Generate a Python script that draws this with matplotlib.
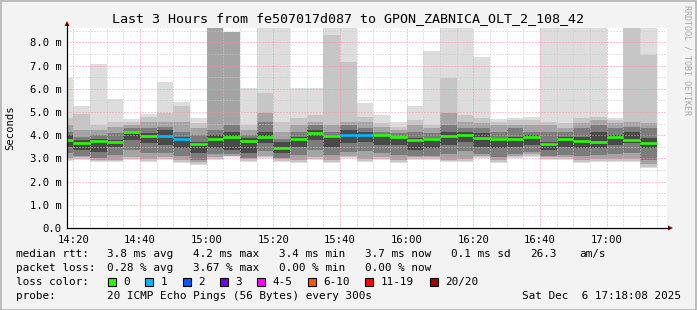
import numpy as np
import pandas as pd
import matplotlib
matplotlib.use("Agg")
import matplotlib.pyplot as plt
import matplotlib.dates as mdates
from matplotlib.patches import Rectangle, Polygon

# 5 minute rounds (start of each step), 20 pings each, values in ms
steps = pd.date_range("2025-12-06 14:15", "2025-12-06 17:10", freq="5min")

# smoke envelopes (outer -> inner)
rtt_max = [6.45, 5.26, 7.07, 5.56, 4.69, 4.90, 6.31, 5.42, 4.73, 8.62, 8.45, 6.02,
           8.62, 8.62, 6.02, 6.05, 8.62, 8.62, 5.38, 4.87, 4.58, 5.26, 7.63, 8.62,
           8.62, 7.39, 4.69, 4.73, 4.79, 8.62, 8.62, 8.62, 8.62, 4.73, 8.62, 8.62]
hi2 = [4.73, 4.90, 4.44, 4.58, 4.58, 4.80, 4.95, 5.24, 4.51, 8.62, 8.45, 4.44,
       5.81, 4.58, 4.73, 4.87, 8.32, 7.17, 4.80, 4.51, 4.37, 4.66, 4.44, 6.45,
       4.87, 4.73, 4.58, 4.66, 4.66, 4.58, 4.51, 4.73, 4.79, 4.66, 8.62, 7.46]
hi3 = [4.44, 4.23, 4.23, 4.37, 4.44, 4.58, 4.58, 4.58, 4.30, 8.62, 8.45, 4.23,
       4.96, 4.14, 4.44, 4.58, 4.44, 4.58, 4.58, 4.37, 4.23, 4.44, 4.30, 4.95,
       4.58, 4.51, 4.44, 4.44, 4.44, 4.44, 4.30, 4.51, 4.66, 4.51, 4.58, 4.51]
hi4 = [4.15, 3.94, 4.01, 4.08, 4.30, 4.30, 4.37, 4.15, 4.01, 4.23, 4.44, 4.01,
       4.58, 3.85, 4.15, 4.44, 4.15, 4.44, 4.30, 4.15, 4.08, 4.15, 4.08, 4.44,
       4.30, 4.30, 4.15, 4.30, 4.15, 4.15, 4.15, 4.30, 4.44, 4.30, 4.37, 4.30]
core_hi = [4.01, 3.80, 3.85, 3.80, 4.15, 4.08, 4.23, 3.94, 3.72, 4.01, 4.15, 3.87,
           4.15, 3.70, 3.94, 4.23, 4.01, 4.23, 4.15, 4.01, 3.94, 3.87, 3.87, 4.15,
           4.15, 4.08, 3.87, 3.94, 4.01, 3.72, 3.94, 3.94, 4.15, 4.01, 4.15, 3.87]
median = [3.81, 3.65, 3.75, 3.72, 4.15, 3.98, 3.98, 3.82, 3.62, 3.84, 3.92, 3.74,
          3.92, 3.44, 3.84, 4.11, 3.98, 4.00, 4.00, 4.01, 3.92, 3.78, 3.82, 3.97,
          4.01, 3.90, 3.82, 3.82, 3.92, 3.62, 3.84, 3.75, 3.72, 3.94, 3.81, 3.68]
core_lo = [3.51, 3.37, 3.29, 3.51, 3.80, 3.65, 3.58, 3.44, 3.22, 3.44, 3.37, 3.22,
           3.65, 3.25, 3.51, 3.80, 3.51, 3.65, 3.72, 3.58, 3.58, 3.37, 3.44, 3.58,
           3.72, 3.51, 3.44, 3.51, 3.58, 3.37, 3.51, 3.44, 3.44, 3.58, 3.65, 3.44]
lo4 = [3.22, 3.12, 3.03, 3.15, 3.35, 3.25, 3.22, 3.12, 2.95, 3.18, 3.18, 3.00,
       3.30, 3.00, 3.15, 3.35, 3.15, 3.28, 3.30, 3.22, 3.15, 3.10, 3.12, 3.20,
       3.30, 3.20, 3.08, 3.20, 3.28, 3.10, 3.15, 3.10, 3.15, 3.20, 3.25, 2.95]
lo3 = [3.02, 3.05, 2.95, 2.95, 3.05, 2.98, 3.05, 2.93, 2.83, 3.05, 3.12, 2.97,
       3.12, 2.97, 2.93, 3.05, 2.93, 3.10, 2.98, 3.05, 2.92, 3.05, 3.05, 2.95,
       2.98, 3.10, 2.92, 3.10, 3.17, 3.05, 3.05, 2.92, 2.97, 2.97, 2.97, 2.75]
lo2 = [2.94, 2.98, 2.88, 2.88, 2.98, 2.90, 2.98, 2.85, 2.77, 2.98, 3.10, 2.90,
       3.05, 2.90, 2.85, 2.98, 2.85, 3.04, 2.90, 2.98, 2.85, 2.98, 2.98, 2.88,
       2.90, 3.04, 2.85, 3.04, 3.10, 2.98, 2.98, 2.85, 2.90, 2.90, 2.90, 2.65]
rtt_min = [2.89, 2.93, 2.83, 2.83, 2.93, 2.85, 2.93, 2.80, 2.72, 2.93, 3.07, 2.85,
           3.00, 2.85, 2.80, 2.93, 2.80, 3.00, 2.85, 2.93, 2.80, 2.93, 2.93, 2.83,
           2.85, 3.00, 2.80, 3.00, 3.07, 2.93, 2.93, 2.80, 2.85, 2.85, 2.85, 2.57]
# lost pings out of 20 per round
loss = [0, 0, 0, 0, 0, 0, 1, 1, 0, 0, 0, 0, 0, 0, 0, 0, 0, 1, 1, 0, 0, 0, 0, 0,
        0, 0, 0, 0, 0, 0, 0, 0, 0, 0, 0, 0]

loss_labels = ["0", "1", "2", "3", "4-5", "6-10", "11-19", "20/20"]
loss_colors = ["#26ff00", "#00b8ff", "#0059ff", "#6a00ff", "#ff00ff", "#ff5500", "#ff0000", "#a10000"]

y_ticks = [0, 1, 2, 3, 4, 5, 6, 7, 8]
x_labels = ["14:20", "14:40", "15:00", "15:20", "15:40", "16:00", "16:20", "16:40", "17:00"]

stats_rtt = ["3.8 ms avg", "4.2 ms max", "3.4 ms min", "3.7 ms now", "0.1 ms sd", "26.3", "am/s"]
stats_loss = ["0.28 % avg", "3.67 % max", "0.00 % min", "0.00 % now"]

W, H = 697, 310
mono = "DejaVu Sans Mono"

def fx(x):
    return x / W

def fy(y):
    return 1 - y / H

fig = plt.figure(figsize=(W / 100, H / 100), dpi=100, facecolor="#f3f3f3")
ax = fig.add_axes([fx(67), fy(228), 600 / W, 200 / H])
ax.set_facecolor("white")

x0 = mdates.date2num(steps)
w = 5 / 1440

# smoke layers, lightest first
layers = [(rtt_min, rtt_max, "#dddddd"), (lo2, hi2, "#c6c6c6"), (lo3, hi3, "#a4a4a4"),
          (lo4, hi4, "#7c7c7c"), (core_lo, core_hi, "#4a4a4a")]
for lo, hi, col in layers:
    lo = np.array(lo)
    hi = np.array(hi)
    ax.bar(x0, hi - lo, bottom=lo, width=w, align="edge", color=col, linewidth=0, zorder=1)

# grid on top of the smoke
t_start = pd.Timestamp("2025-12-06 14:18:08")
t_end = pd.Timestamp("2025-12-06 17:18:08")
ax.set_xlim(mdates.date2num(t_start), mdates.date2num(t_end))
ax.set_ylim(0, 8.62)

grid_kw = dict(lw=0.72, linestyle=(0, (1, 2)), zorder=3)
for t in pd.date_range("2025-12-06 14:20", "2025-12-06 17:15", freq="5min"):
    major = t.minute % 20 == 0
    ax.axvline(mdates.date2num(t), color="#ff9090" if major else "#c8c8c8", **grid_kw)
for v in np.arange(0.5, 8.6, 0.5):
    major = v == int(v)
    ax.axhline(v, color="#ff9090" if major else "#c8c8c8", **grid_kw)

# median line coloured by loss
med_cols = [loss_colors[min(l, 3)] for l in loss]
ax.hlines(median, x0, x0 + w, colors=med_cols, lw=1.9, zorder=4)

ax.set_yticks(y_ticks)
ax.set_yticklabels(["0.0"] + [f"{v:.1f} m" for v in y_ticks[1:]], fontfamily=mono, fontsize=7.6)
ax.set_xticks([mdates.date2num(pd.Timestamp("2025-12-06 " + s)) for s in x_labels])
ax.set_xticklabels(x_labels, fontfamily=mono, fontsize=7.6)
ax.tick_params(length=0, pad=4)
ax.tick_params(axis="x", pad=5)
for s in ["top", "right"]:
    ax.spines[s].set_visible(False)
ax.spines["left"].set_color("black")
ax.spines["bottom"].set_color("black")
ax.spines["left"].set_linewidth(0.8)
ax.spines["bottom"].set_linewidth(0.8)
ax.set_ylabel("Seconds", fontfamily=mono, fontsize=7.6, labelpad=10)

# axis extensions and arrows
fig.add_artist(plt.Line2D([fx(67), fx(67)], [fy(228), fy(24)], color="black", lw=0.8))
fig.add_artist(plt.Line2D([fx(67), fx(669)], [fy(228), fy(228)], color="black", lw=0.8))
fig.add_artist(Polygon([(fx(64.5), fy(26)), (fx(69.5), fy(26)), (fx(67), fy(21))],
                       closed=True, color="#8b0000", lw=0))
fig.add_artist(Polygon([(fx(668), fy(225.5)), (fx(668), fy(230.5)), (fx(673), fy(228))],
                       closed=True, color="#8b0000", lw=0))

fig.text(fx(348), fy(19), "Last 3 Hours from fe507017d087 to GPON_ZABNICA_OLT_2_108_42",
         ha="center", va="center", fontfamily=mono, fontsize=9.6)
fig.text(fx(687), fy(5), "RRDTOOL / TOBI OETIKER", rotation=270, ha="center", va="top",
         fontfamily=mono, fontsize=6, color="#a8a8a8")

# legend block
leg = dict(fontfamily=mono, fontsize=7.9, va="center", ha="left")
fig.text(fx(16), fy(254), "median rtt:", **leg)
for s, x in zip(stats_rtt, [107, 193, 279, 365, 451, 530, 579]):
    fig.text(fx(x), fy(254), s, **leg)
fig.text(fx(16), fy(268), "packet loss:", **leg)
for s, x in zip(stats_loss, [107, 193, 279, 365]):
    fig.text(fx(x), fy(268), s, **leg)
fig.text(fx(16), fy(282), "loss color:", **leg)
for lab, col, bx in zip(loss_labels, loss_colors, [108, 145, 182.5, 219.5, 257, 307.5, 365, 430]):
    fig.add_artist(Rectangle((fx(bx), fy(286)), 8 / W, 8 / H, facecolor=col,
                             edgecolor="black", lw=0.8))
    fig.text(fx(bx + 15.5), fy(282), lab, **leg)
fig.text(fx(16), fy(296), "probe:", **leg)
fig.text(fx(107), fy(296), "20 ICMP Echo Pings (56 Bytes) every 300s", **leg)
fig.text(fx(681), fy(296), "Sat Dec  6 17:18:08 2025", fontfamily=mono, fontsize=7.9,
         va="center", ha="right")

# frame
fig.add_artist(Rectangle((0.5 / W, 0.5 / H), 1 - 1.5 / W, 1 - 1.5 / H, fill=False,
                         edgecolor="#b4b4b4", lw=1.2))

fig.savefig("out.png", dpi=100, facecolor=fig.get_facecolor())
